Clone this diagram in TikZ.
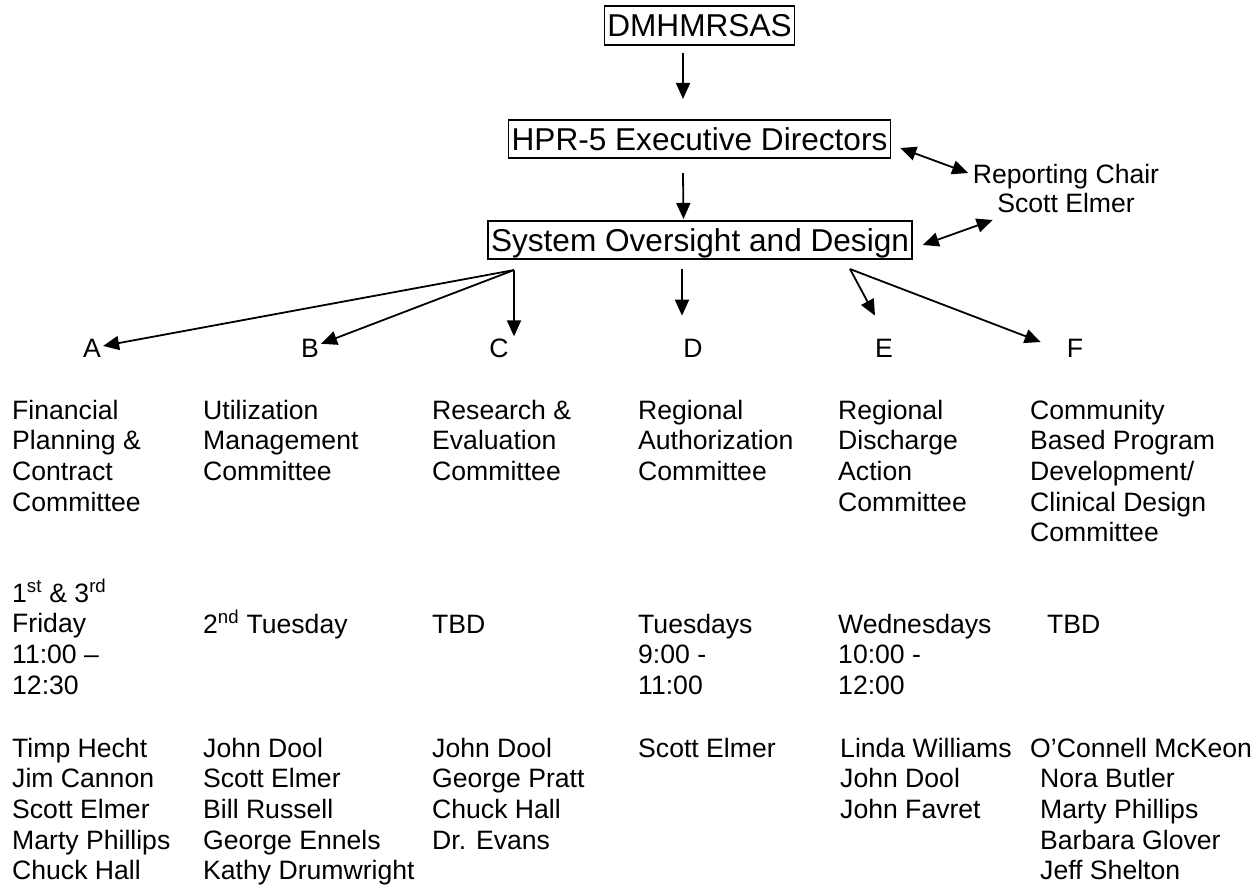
\documentclass[tikz,border=0pt]{standalone}
\usepackage{fontspec}
\setmainfont{Liberation Sans}
\usepackage{tikz}
\usetikzlibrary{arrows.meta, positioning}
\tikzset{
  topbox/.style={draw, line width=1.6pt, inner xsep=3pt, inner ysep=0pt, text height=30.5pt, text depth=8pt, font=\fontsize{31.6}{36}\selectfont},
  colbox/.style={anchor=base west, align=left, inner sep=0pt, font=\fontsize{26.6}{30.7}\selectfont},
  letter/.style={inner sep=2pt, font=\fontsize{26.6}{30.7}\selectfont},
  arr/.style={-{Triangle[length=16pt, width=14pt]}, line width=1.8pt},
  dblarr/.style={{Triangle[length=16pt, width=14pt]}-{Triangle[length=16pt, width=14pt]}, line width=1.8pt}
}

\begin{document}
\begin{tikzpicture}[x=1pt, y=-1pt]
  \useasboundingbox (0,0) rectangle (1260,888);

  \node[topbox] (dm) at (699.5,25.5) {DMHMRSAS};
  \node[topbox] (hpr) at (699.5,139) {HPR-5 Executive Directors};
  \node[topbox] (sod) at (700,240) {System Oversight and Design};
  \node[align=center, inner sep=0pt, font=\fontsize{26.6}{29}\selectfont] (chair) at (1066,188) {Reporting Chair\\Scott Elmer};

  \draw[arr] ([xshift=-16.5pt, yshift=-7pt]dm.south) -- ([xshift=-16.5pt, yshift=20pt]hpr.north);
  \draw[arr] ([xshift=-16.5pt, yshift=-14pt]hpr.south) -- ([xshift=-16.5pt, yshift=1pt]sod.north);
  \draw[dblarr] ([xshift=9pt, yshift=-9pt]hpr.east) -- ([xshift=-4.5pt, yshift=15pt]chair.west);
  \draw[dblarr] ([xshift=10pt, yshift=-5pt]sod.east) -- ([xshift=20pt, yshift=-32pt]chair.west);

  \node[letter] (la) at (92,348) {A};
  \node[letter] (lb) at (310,348) {B};
  \node[letter] (lc) at (499,348) {C};
  \node[letter] (ld) at (693,348) {D};
  \node[letter] (le) at (884,348) {E};
  \node[letter] (lf) at (1075,348) {F};

  \coordinate (fanL) at ([xshift=-186pt, yshift=-10pt]sod.south);
  \coordinate (fanD) at ([xshift=-18pt, yshift=-9pt]sod.south);
  \coordinate (fanR) at ([xshift=150pt, yshift=-9pt]sod.south);
  \draw[arr] (fanL) -- (la);
  \draw[arr] (fanL) -- (lb);
  \draw[arr] (fanL) -- (fanL |- lc.north);
  \draw[arr, shorten >=21pt] (fanD) -- (fanD |- ld.north);
  \draw[arr] (fanR) -- ([xshift=-9pt, yshift=21pt]le.north);
  \draw[arr] (fanR) -- ([xshift=-24pt, yshift=6pt]lf.west);

  % committees (placed at the baseline of the last line)
  \node[colbox] (comA) at (12,511.1) {Financial\\Planning \&\\Contract\\Committee};
  \node[colbox] (comB) at (203,480.4) {Utilization\\Management\\Committee};
  \node[colbox] (comC) at (432,480.4) {Research \&\\Evaluation\\Committee};
  \node[colbox] (comD) at (638,480.4) {Regional\\Authorization\\Committee};
  \node[colbox] (comE) at (838,511.1) {Regional\\Discharge\\Action\\Committee};
  \node[colbox] (comF) at (1030,541.8) {Community\\Based Program\\Development/\\Clinical Design\\Committee};

  % meeting times
  \node[colbox] (timeA) at (12,694.1) {1\textsuperscript{st} \& 3\textsuperscript{rd}\\Friday\\11:00 –\\12:30};
  \node[colbox] (timeB) at (203,633) {2\textsuperscript{nd} Tuesday};
  \node[colbox] (timeC) at (432,633) {TBD};
  \node[colbox] (timeD) at (638,694.4) {Tuesdays\\9:00 -\\11:00};
  \node[colbox] (timeE) at (838,694.4) {Wednesdays\\10:00 -\\12:00};
  \node[colbox] (timeF) at (1047,633) {TBD};

  % members
  \node[colbox] (memA) at (12,879.8) {Timp Hecht\\Jim Cannon\\Scott Elmer\\Marty Phillips\\Chuck Hall};
  \node[colbox] (memB) at (203,879.8) {John Dool\\Scott Elmer\\Bill Russell\\George Ennels\\Kathy Drumwright};
  \node[colbox] (memC) at (432,849.1) {John Dool\\George Pratt\\Chuck Hall\\Dr. Evans};
  \node[colbox] (memD) at (638,757) {Scott Elmer};
  \node[colbox] (memE) at (840,818.4) {Linda Williams\\John Dool\\John Favret};
  \node[colbox] (memF) at (1030,879.8) {O’Connell McKeon\\\hspace*{10pt}Nora Butler\\\hspace*{10pt}Marty Phillips\\\hspace*{10pt}Barbara Glover\\\hspace*{10pt}Jeff Shelton};
\end{tikzpicture}
\end{document}
